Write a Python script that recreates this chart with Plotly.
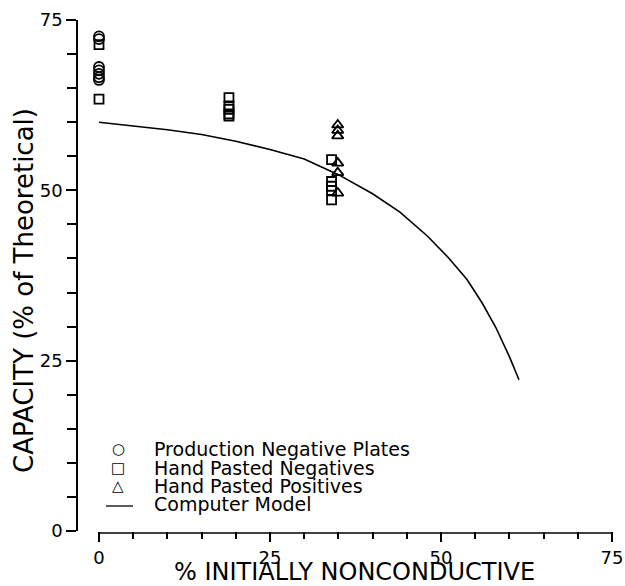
import plotly.graph_objects as go

# ---- data ----
circ_x = [0, 0, 0, 0, 0, 0, 0]
circ_y = [72.6, 72.2, 68.1, 67.6, 67.1, 66.6, 66.2]

sq_x = [0, 0, 19, 19, 19, 19, 19, 34, 34, 34, 34, 34]
sq_y = [71.4, 63.4, 63.6, 62.4, 61.9, 61.2, 60.9, 54.5, 51.3, 50.6, 50.0, 48.6]

tri_x = [34.9, 34.9, 34.9, 34.9, 34.9, 34.9]
tri_y = [59.6, 58.8, 58.0, 54.0, 52.6, 49.6]

model_x = [0, 5, 10, 15, 20, 25, 30, 35, 40, 44, 48, 51, 53.8, 56, 58, 60, 61.4]
model_y = [60.0, 59.5, 58.9, 58.2, 57.2, 56.0, 54.6, 52.3, 49.5, 46.8, 43.3, 40.2, 36.9, 33.5, 29.9, 25.6, 22.2]

x_ticks = [0, 25, 50, 75]
y_ticks = [0, 25, 50, 75]

legend_labels = ["Production Negative Plates", "Hand Pasted Negatives",
                 "Hand Pasted Positives", "Computer Model"]
legend_glyphs = ["○", "□", "△"]

x_title = "% INITIALLY NONCONDUCTIVE"
y_title = "CAPACITY (% of Theoretical)"

FONT = "DejaVu Sans"

fig = go.Figure()
fig.add_trace(go.Scatter(x=model_x, y=model_y, mode="lines",
                         line=dict(color="black", width=1.6),
                         name=legend_labels[3], showlegend=False))
fig.add_trace(go.Scatter(x=circ_x, y=circ_y, mode="markers",
                         marker=dict(symbol="circle-open", size=10, color="black",
                                     line=dict(width=1.8, color="black")),
                         name=legend_labels[0], showlegend=False))
fig.add_trace(go.Scatter(x=sq_x, y=sq_y, mode="markers",
                         marker=dict(symbol="square-open", size=9, color="black",
                                     line=dict(width=1.8, color="black")),
                         name=legend_labels[1], showlegend=False))
fig.add_trace(go.Scatter(x=tri_x, y=tri_y, mode="markers",
                         marker=dict(symbol="triangle-up-open", size=10, color="black",
                                     line=dict(width=1.8, color="black")),
                         name=legend_labels[2], showlegend=False))

L, R, T, B = 78, 13, 20, 55
W, H = 625, 586
pw, ph = W - L - R, H - T - B

def px2paper(px, py):
    return (px - L) / pw, (H - B - py) / ph

# manual legend
row_y = [449, 467.5, 486, 504]
for i, lab in enumerate(legend_labels):
    xp, yp = px2paper(152, row_y[i])
    fig.add_annotation(x=xp, y=yp, xref="paper", yref="paper", text=lab,
                       showarrow=False, xanchor="left", yanchor="middle",
                       font=dict(family=FONT, size=19, color="black"))
for i, g in enumerate(legend_glyphs):
    gx, gy = px2paper(118, row_y[i])
    fig.add_annotation(x=gx, y=gy, xref="paper", yref="paper", text=g,
                       showarrow=False, xanchor="center", yanchor="middle",
                       font=dict(family=FONT, size=15, color="black"))
lx0, ly = px2paper(106, 506)
lx1, _ = px2paper(133, 506)
fig.add_shape(type="line", xref="paper", yref="paper", x0=lx0, x1=lx1, y0=ly, y1=ly,
              line=dict(color="black", width=1.3))

# axis titles
xp, yp = px2paper(354, 572)
fig.add_annotation(x=xp, y=yp, xref="paper", yref="paper", text=x_title,
                   showarrow=False, xanchor="center", yanchor="middle",
                   font=dict(family=FONT, size=24, color="black"))
xp, yp = px2paper(24, 291)
fig.add_annotation(x=xp, y=yp, xref="paper", yref="paper", text=y_title,
                   textangle=-90, showarrow=False, xanchor="center", yanchor="middle",
                   font=dict(family=FONT, size=26, color="black"))

# x axis line starting at 0
fig.add_shape(type="line", xref="x", yref="paper", x0=0, x1=75, y0=-0.004, y1=-0.004,
              line=dict(color="black", width=1.6))

fig.update_layout(
    width=W, height=H,
    margin=dict(l=L, r=R, t=T, b=B),
    paper_bgcolor="white", plot_bgcolor="white",
    showlegend=False,
    font=dict(family=FONT, size=18, color="black"),
    xaxis=dict(range=[-3.07, 75], tickvals=x_ticks, ticktext=[str(v) for v in x_ticks],
               ticks="outside", ticklen=10, tickwidth=1.5, tickcolor="black",
               minor=dict(dtick=5, tick0=0, ticks="outside", ticklen=7, tickwidth=1.5,
                          tickcolor="black", showgrid=False),
               showgrid=False, zeroline=False, showline=False, automargin=False,
               tickfont=dict(family=FONT, size=18)),
    yaxis=dict(range=[0, 75], tickvals=y_ticks, ticktext=[str(v) for v in y_ticks],
               ticks="outside", ticklen=10, tickwidth=1.5, tickcolor="black",
               minor=dict(dtick=5, tick0=0, ticks="outside", ticklen=9, tickwidth=1.5,
                          tickcolor="black", showgrid=False),
               showgrid=False, zeroline=False, showline=True, linecolor="black",
               linewidth=1.6, automargin=False, tickfont=dict(family=FONT, size=18)),
)

fig.write_html("out.html", config={"displayModeBar": False},
               post_script="document.body.style.margin='0';")
